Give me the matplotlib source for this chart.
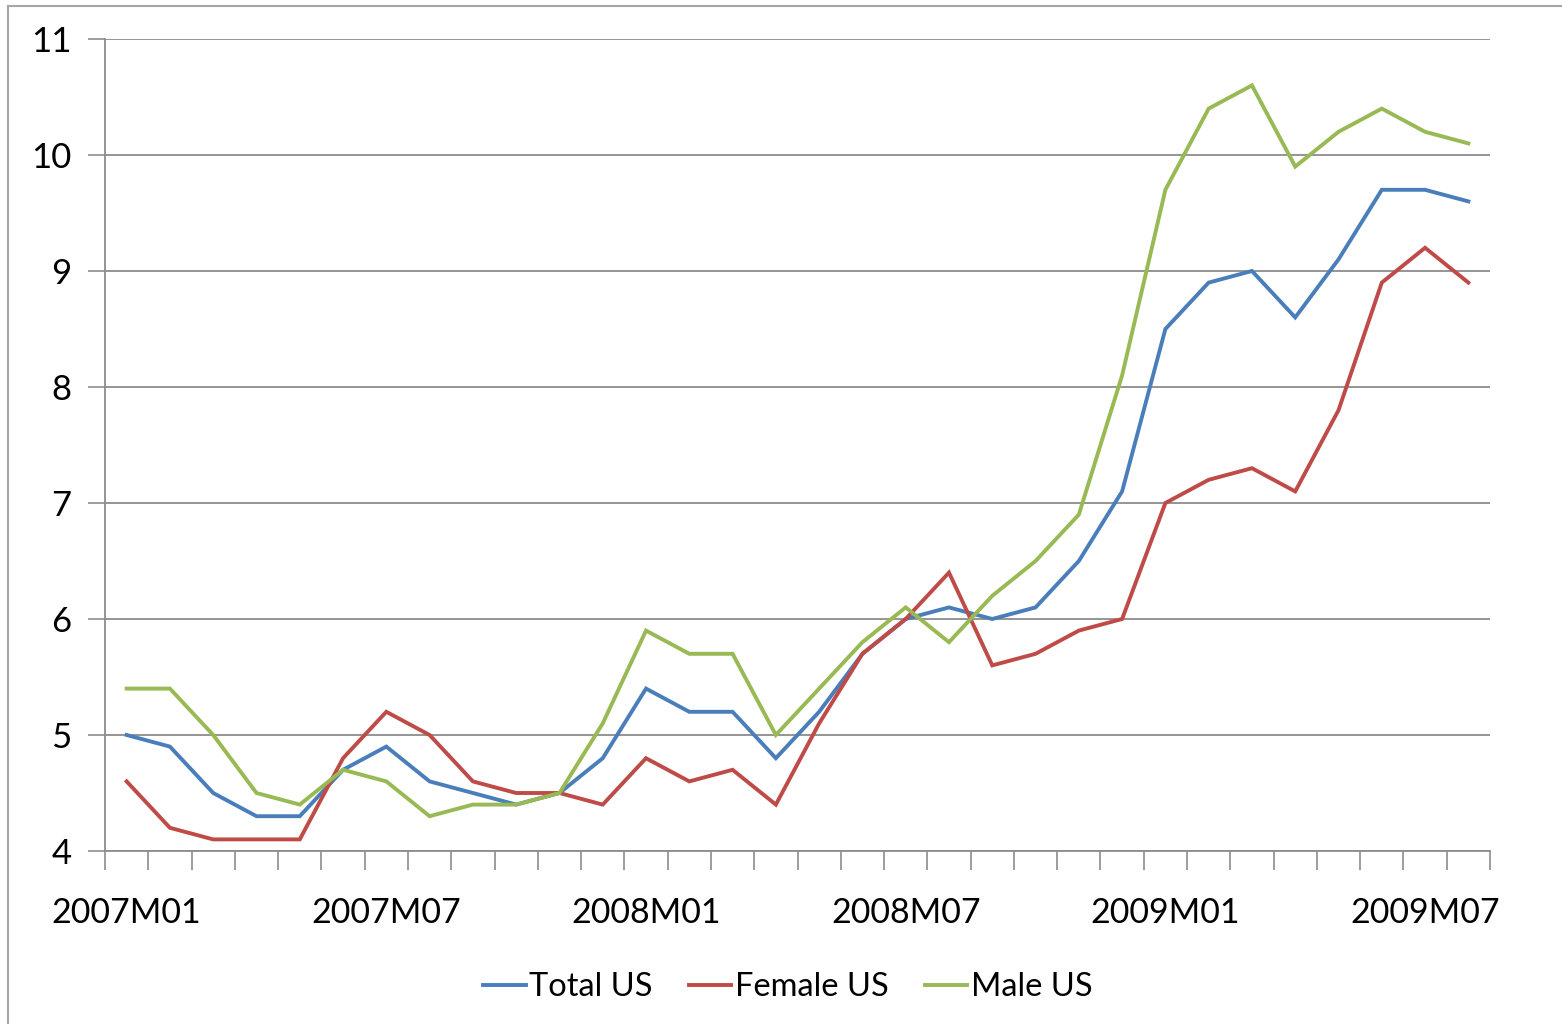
import matplotlib
matplotlib.use("Agg")
import matplotlib.pyplot as plt
from matplotlib.lines import Line2D
import numpy as np

months = [f"{y}M{m:02d}" for y in (2007, 2008, 2009) for m in range(1, 13)][:32]

total_us = [5.0, 4.9, 4.5, 4.3, 4.3, 4.7, 4.9, 4.6, 4.5, 4.4, 4.5, 4.8,
            5.4, 5.2, 5.2, 4.8, 5.2, 5.7, 6.0, 6.1, 6.0, 6.1, 6.5, 7.1,
            8.5, 8.9, 9.0, 8.6, 9.1, 9.7, 9.7, 9.6]
female_us = [4.6, 4.2, 4.1, 4.1, 4.1, 4.8, 5.2, 5.0, 4.6, 4.5, 4.5, 4.4,
             4.8, 4.6, 4.7, 4.4, 5.1, 5.7, 6.0, 6.4, 5.6, 5.7, 5.9, 6.0,
             7.0, 7.2, 7.3, 7.1, 7.8, 8.9, 9.2, 8.9]
male_us = [5.4, 5.4, 5.0, 4.5, 4.4, 4.7, 4.6, 4.3, 4.4, 4.4, 4.5, 5.1,
           5.9, 5.7, 5.7, 5.0, 5.4, 5.8, 6.1, 5.8, 6.2, 6.5, 6.9, 8.1,
           9.7, 10.4, 10.6, 9.9, 10.2, 10.4, 10.2, 10.1]

series = [("Total US", total_us, "#4A7EBB"),
          ("Female US", female_us, "#BE4B48"),
          ("Male US", male_us, "#98B954")]

plt.rcParams["font.family"] = ["Lato", "DejaVu Sans"]

W, H = 1562, 1024
fig = plt.figure(figsize=(W / 100, H / 100), dpi=100)
ax = fig.add_axes([105 / W, 1 - 851 / H, (1490 - 105) / W, (851 - 39) / H])

x = np.arange(len(months))
for name, vals, col in series:
    ax.plot(x, vals, color=col, lw=2.8, label=name, solid_joinstyle="miter")

ax.set_xlim(-0.5, len(months) - 0.5)
ax.set_ylim(4, 11)
ax.set_yticks(range(4, 12))
ax.yaxis.grid(True, color="#8c8c8c", lw=1.3)
ax.set_axisbelow(True)

# category labels every six months, tick marks on category boundaries
ax.set_xticks(x[::6])
ax.set_xticklabels([months[i] for i in x[::6]])
ax.set_xticks(np.arange(-0.5, len(months)), minor=True)
ax.tick_params(axis="x", which="major", length=0, pad=33, labelsize=24.5)
ax.tick_params(axis="x", which="minor", length=14, width=1.2, color="#8c8c8c",
               direction="out")
ax.tick_params(axis="y", length=12, width=1.2, color="#8c8c8c", pad=12,
               labelsize=25)

for s in ("top", "right"):
    ax.spines[s].set_visible(False)
for s in ("left", "bottom"):
    ax.spines[s].set_color("#8c8c8c")
    ax.spines[s].set_linewidth(1.3)

handles = [Line2D([0], [0], color=c, lw=2.8) for _, _, c in series]
fig.legend(handles, [n for n, _, _ in series], loc="center",
           bbox_to_anchor=(788 / W, 1 - 987 / H), ncol=3, frameon=False,
           fontsize=23.5, handlelength=1.3, handletextpad=0.12, columnspacing=1.1)

# outer chart border
fig.add_artist(Line2D([8 / W, 8 / W], [0, 1 - 6 / H], color="#a6a6a6", lw=1.5,
                      transform=fig.transFigure))
fig.add_artist(Line2D([8 / W, 1], [1 - 6 / H, 1 - 6 / H], color="#a6a6a6", lw=1.5,
                      transform=fig.transFigure))

fig.savefig("out.png", dpi=100, facecolor="white")
